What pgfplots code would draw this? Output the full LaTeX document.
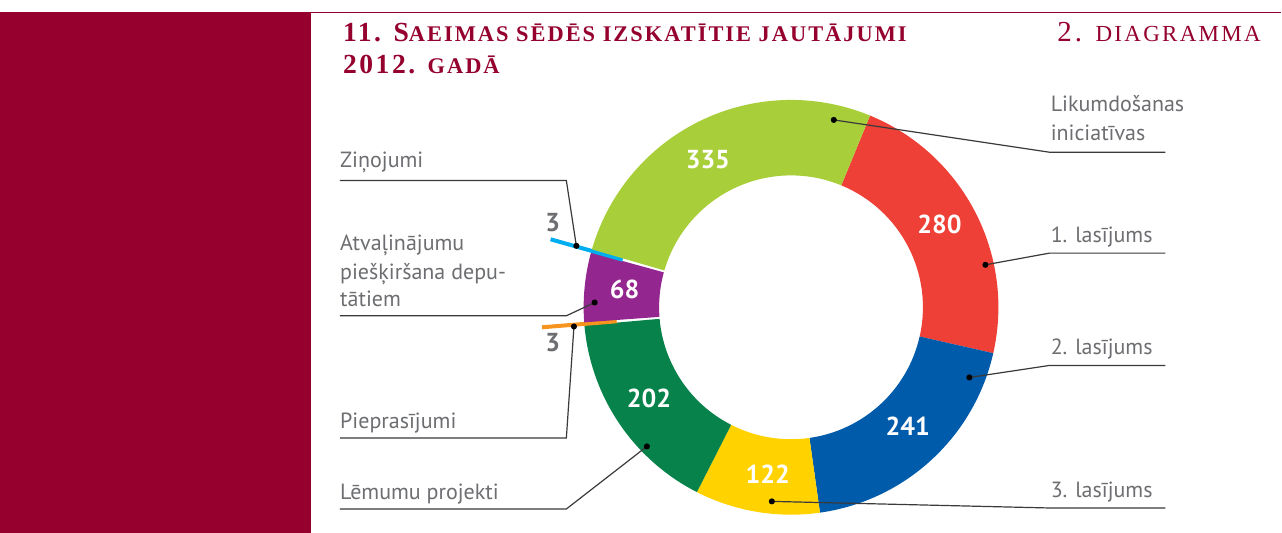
\documentclass[border=0pt]{standalone}
\usepackage{pgfplots}
\pgfplotsset{compat=1.18}
\usepackage{pgfplotstable}
\usepackage{fontspec}
\setmainfont{PT Sans}
\newfontfamily\titlefont{Liberation Serif}[LetterSpace=9]
\newfontfamily\titlefontr{Liberation Serif}[LetterSpace=10]
\definecolor{crimson}{HTML}{95002F}
\definecolor{cRed}{HTML}{EE4036}
\definecolor{cBlue}{HTML}{005BAA}
\definecolor{cYellow}{HTML}{FFD200}
\definecolor{cDGreen}{HTML}{06824A}
\definecolor{cOrange}{HTML}{F7941E}
\definecolor{cPurple}{HTML}{93268F}
\definecolor{cCyan}{HTML}{00AEEF}
\definecolor{cLGreen}{HTML}{A8CE3A}
\definecolor{txtgray}{HTML}{6D6E71}
\definecolor{linegray}{HTML}{3A3A3C}

\pgfplotstableread{
value col
280 cRed
241 cBlue
122 cYellow
202 cDGreen
3 cOrange
68 cPurple
3 cCyan
335 cLGreen
}\donut

\newcommand\tbig[1]{{\fontsize{13.8}{14}\selectfont #1}}
\newcommand\tsmc[1]{{\fontsize{11.2}{12}\selectfont #1}}
\newcommand\rbig[1]{{\fontsize{14.5}{14}\selectfont #1}}
\newcommand\rsmc[1]{{\fontsize{11.5}{12}\selectfont #1}}
\newcommand\lab{\fontsize{11}{12}\selectfont\color{txtgray}}
\newcommand\numf{\fontsize{13}{14}\selectfont\bfseries}

\begin{document}
\begin{tikzpicture}
\begin{axis}[scale only axis, width=641pt, height=266.5pt,
  xmin=0, xmax=1282, ymin=0, ymax=533, y dir=reverse,
  hide axis, clip=false]
\fill[white] (axis cs:0,0) rectangle (axis cs:1282,533);
\fill[crimson] (axis cs:0,12) rectangle (axis cs:311,533);
\draw[crimson, line width=0.8pt] (axis cs:311,12.4) -- (axis cs:1282,12.4);

% donut
\pgfplotstablegetrowsof{\donut}
\pgfmathtruncatemacro\segN{\pgfplotsretval-1}
\def\segtot{0}
\pgfplotsforeachungrouped \i in {0,...,\segN}{%
  \pgfplotstablegetelem{\i}{value}\of\donut
  \pgfmathsetmacro\segtot{\segtot+\pgfplotsretval}%
}
\def\segcum{0}
\pgfplotsforeachungrouped \i in {0,...,\segN}{%
  \pgfplotstablegetelem{\i}{value}\of\donut \let\segval\pgfplotsretval
  \pgfplotstablegetelem{\i}{col}\of\donut \let\segcol\pgfplotsretval
  \pgfmathsetmacro\sega{67.6-\segcum/\segtot*360}%
  \pgfmathsetmacro\segb{67.6-(\segcum+\segval)/\segtot*360}%
  \pgfmathsetmacro\segm{(\sega+\segb)/2}%
  \pgfmathsetmacro\segbb{\segb+180}%
  \pgfmathsetmacro\segcum{\segcum+\segval}%
  \ifdim\segval pt<10pt
    \edef\segcmd{\noexpand\draw[\segcol, line width=2pt] (axis cs:791.5,307.5) ++(\segm:87.5pt) -- ++(\segm:37.5pt);}%
  \else
    \edef\segcmd{\noexpand\fill[\segcol] (axis cs:791.5,307.5) ++(\sega:103.75pt) arc[start angle=\sega,end angle=\segb,radius=103.75pt] -- ++(\segbb:37.75pt) arc[start angle=\segb,end angle=\sega,radius=66pt] -- cycle;}%
  \fi
  \segcmd
}

% leader lines
\addplot[linegray, line width=0.6pt, mark=none] coordinates {(834.3,120) (1050,152.3) (1166,152.3)};
\addplot[linegray, line width=0.6pt, mark=none] coordinates {(986,265) (1050,253.3) (1166,253.3)};
\addplot[linegray, line width=0.6pt, mark=none] coordinates {(970,377.7) (1050,365.7) (1166,365.7)};
\addplot[linegray, line width=0.6pt, mark=none] coordinates {(772.3,501.7) (1050,508.3) (1166,508.3)};
\addplot[linegray, line width=0.6pt, mark=none] coordinates {(340,180.7) (566.7,180.7) (576.7,246)};
\addplot[linegray, line width=0.6pt, mark=none] coordinates {(340,316) (566.7,316) (595,302.7)};
\addplot[linegray, line width=0.6pt, mark=none] coordinates {(340,438.3) (566.7,438.3) (574.3,326.7)};
\addplot[linegray, line width=0.6pt, mark=none] coordinates {(340,509.3) (566.7,509.3) (647.3,446.7)};
\addplot[only marks, mark=*, mark size=1.3pt, black] coordinates {
(834.3,120) (986,265) (970,377.7) (772.3,501.7) (576.7,246) (595,302.7) (574.3,326.7) (647.3,446.7)};

% title
\node[anchor=base west, inner sep=0pt, text=crimson] at (axis cs:343,42) {\titlefont\bfseries\tbig{11. S}\tsmc{AEIMAS SĒDĒS IZSKATĪTIE JAUTĀJUMI}};
\node[anchor=base west, inner sep=0pt, text=crimson] at (axis cs:343,74) {\titlefont\bfseries\tbig{2012. }\tsmc{GADĀ}};
\node[anchor=base east, inner sep=0pt, text=crimson] at (axis cs:1262,42) {\titlefontr\rbig{2. }\rsmc{DIAGRAMMA}};

% labels right
\node[anchor=base west, inner sep=0pt] at (axis cs:1051,111.7) {\lab Likumdošanas};
\node[anchor=base west, inner sep=0pt] at (axis cs:1051,140.7) {\lab iniciatīvas};
\node[anchor=base west, inner sep=0pt] at (axis cs:1051,242.3) {\lab 1. lasījums};
\node[anchor=base west, inner sep=0pt] at (axis cs:1051,355) {\lab 2. lasījums};
\node[anchor=base west, inner sep=0pt] at (axis cs:1051,497.7) {\lab 3. lasījums};
% labels left
\node[anchor=base west, inner sep=0pt] at (axis cs:340,167.7) {\lab Ziņojumi};
\node[anchor=base west, inner sep=0pt] at (axis cs:340,251) {\lab Atvaļinājumu};
\node[anchor=base west, inner sep=0pt] at (axis cs:340,279.3) {\lab piešķiršana depu-};
\node[anchor=base west, inner sep=0pt] at (axis cs:340,306.7) {\lab tātiem};
\node[anchor=base west, inner sep=0pt] at (axis cs:340,428.3) {\lab Pieprasījumi};
\node[anchor=base west, inner sep=0pt] at (axis cs:340,500) {\lab Lēmumu projekti};

% values
\node[text=white] at (axis cs:708.3,160) {\numf 335};
\node[text=white] at (axis cs:940,225) {\numf 280};
\node[text=white] at (axis cs:908.3,426.7) {\numf 241};
\node[text=white] at (axis cs:768.3,475) {\numf 122};
\node[text=white] at (axis cs:649.3,398.3) {\numf 202};
\node[text=white] at (axis cs:625,290) {\numf 68};
\node[text=txtgray] at (axis cs:553,223) {\numf 3};
\node[text=txtgray] at (axis cs:553,343) {\numf 3};
\end{axis}
\end{tikzpicture}
\end{document}
